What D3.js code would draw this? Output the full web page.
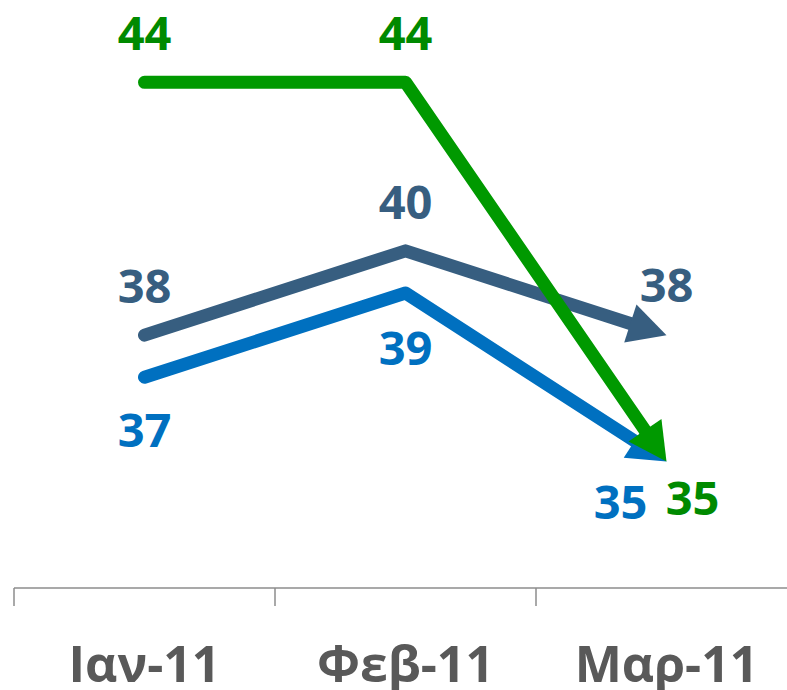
<!DOCTYPE html>
<html>
<head>
<meta charset="utf-8">
<script src="https://cdn.jsdelivr.net/npm/d3@7"></script>
<style>
  body { margin: 0; background: #fff; }
  svg { display: block; }
</style>
</head>
<body>
<div id="chart"></div>
<script>
var width = 787,
    height = 690

var months = ["Ιαν-11", "Φεβ-11", "Μαρ-11"]
var seriesNames = ["blue", "darkblue", "green"]
var blueValues = [37, 39, 35]
var darkBlueValues = [38, 40, 38]
var greenValues = [44, 44, 35]

// label placement per point: [dx, dy] from the point (style only)
var labelPos = {
  blue: [[0, 70], [0, 72], [-46, 57]],
  darkblue: [[0, -32], [0, -32], [0, -33]],
  green: [[0, -32], [0, -32], [26, 53]]
}
var lineColor = { blue: "#0070C0", darkblue: "#375E80", green: "#009900" }
var textColor = { blue: "#0070C0", darkblue: "#375E80", green: "#008A00" }

var series = [
  { name: "blue", values: blueValues },
  { name: "darkblue", values: darkBlueValues },
  { name: "green", values: greenValues }
]

var svg = d3.select("#chart")
  .append("svg")
    .attr("width", width)
    .attr("height", height)

var x = d3.scaleBand()
  .domain(months)
  .range([14, 797])

var y = d3.scaleLinear()
  .domain([32, 46])
  .range([588, -2])

var axisY = y(32)

// axis line + boundary ticks
svg.append("line")
  .attr("x1", x.range()[0]).attr("x2", x.range()[1])
  .attr("y1", axisY).attr("y2", axisY)
  .attr("stroke", "#8c8c8c")
  .attr("stroke-width", 1.5)

svg.selectAll("tickMarks")
  .data(d3.range(months.length + 1))
  .enter()
  .append("line")
    .attr("x1", function(i) { return x.range()[0] + i * x.step() })
    .attr("x2", function(i) { return x.range()[0] + i * x.step() })
    .attr("y1", axisY)
    .attr("y2", axisY + 18)
    .attr("stroke", "#8c8c8c")
    .attr("stroke-width", 1.5)

var xAxis = svg.append("g")
  .attr("transform", "translate(0," + axisY + ")")
  .call(d3.axisBottom(x).tickSize(0).tickPadding(0))
xAxis.select(".domain").remove()
xAxis.selectAll("text")
  .attr("dy", 0)
  .attr("y", 94)
  .style("font-family", "'Open Sans', sans-serif")
  .style("font-weight", "bold")
  .style("font-size", "50px")
  .style("fill", "#595959")

var arrowLen = 38,
    arrowWidth = 40

series.forEach(function(s) {
  var pts = s.values.map(function(v, i) {
    return [x(months[i]) + x.bandwidth() / 2, y(v)]
  })
  var n = pts.length
  var tip = pts[n - 1], prev = pts[n - 2]
  var dx = tip[0] - prev[0], dy = tip[1] - prev[1]
  var len = Math.sqrt(dx * dx + dy * dy)
  var ux = dx / len, uy = dy / len
  var base = [tip[0] - ux * arrowLen, tip[1] - uy * arrowLen]
  var lineEnd = [tip[0] - ux * (arrowLen - 4), tip[1] - uy * (arrowLen - 4)]

  var linePts = pts.slice(0, n - 1).concat([lineEnd])

  svg.append("path")
    .datum(linePts)
    .attr("d", d3.line())
    .attr("fill", "none")
    .attr("stroke", lineColor[s.name])
    .attr("stroke-width", 13)
    .attr("stroke-linecap", "round")
    .attr("stroke-linejoin", "round")

  var head = [
    tip,
    [base[0] - uy * arrowWidth / 2, base[1] + ux * arrowWidth / 2],
    [base[0] + uy * arrowWidth / 2, base[1] - ux * arrowWidth / 2]
  ]
  svg.append("path")
    .attr("d", "M" + head.join("L") + "Z")
    .attr("fill", lineColor[s.name])
})

series.forEach(function(s) {
  svg.selectAll("lbl-" + s.name)
    .data(s.values)
    .enter()
    .append("text")
      .text(function(d) { return d })
      .attr("x", function(d, i) { return x(months[i]) + x.bandwidth() / 2 + labelPos[s.name][i][0] })
      .attr("y", function(d, i) { return y(d) + labelPos[s.name][i][1] })
      .attr("text-anchor", "middle")
      .style("font-family", "'Open Sans', sans-serif")
      .style("font-weight", "bold")
      .style("font-size", "47px")
      .style("fill", textColor[s.name])
})
</script>
</body>
</html>
